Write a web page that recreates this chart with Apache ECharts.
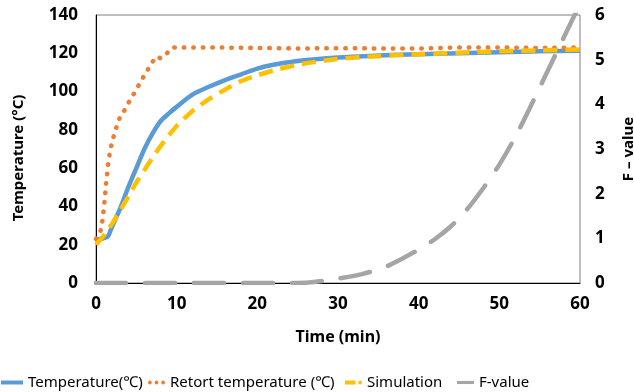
<!DOCTYPE html>
<html>
<head>
<meta charset="utf-8">
<script src="https://cdn.jsdelivr.net/npm/echarts@6/dist/echarts.min.js"></script>
<style>
  html, body { margin: 0; padding: 0; background: #fff; }
  #chart { width: 634px; height: 392px; }
</style>
</head>
<body>
<div id="chart"></div>
<script>
// time (min) for the measured / simulated product temperature
var tempTime = [0, 1, 1.5, 2, 3, 4, 5, 6, 7, 8, 9, 10, 12, 14, 16, 18, 20, 22, 25, 30, 35, 40, 45, 50, 55, 60];
var tempVals = [22.5, 23.5, 24.5, 29.5, 39, 50, 60, 70, 78, 84.5, 88.5, 92, 98.5, 102.5, 106, 109, 112, 114, 116, 117.8, 118.8, 119.5, 120, 120.5, 121, 121.3];
var simVals = [20, 25, 28, 31, 38, 45, 52.5, 59, 65.5, 71.5, 77, 82, 90, 96, 101, 105.5, 108.5, 111, 114, 117, 118.5, 119.5, 120.3, 121, 121.5, 122];

// retort temperature
var retortTime = [0, 0.5, 0.75, 1, 1.25, 1.5, 1.75, 2, 2.5, 3, 3.5, 4, 4.5, 5, 5.5, 6, 6.5, 7, 7.5, 8, 8.5, 9, 9.5, 10, 12, 15, 20, 25, 30, 35, 40, 45, 50, 55, 60];
var retortVals = [23, 26, 31, 40, 52, 62, 69, 74, 81, 87, 90, 94, 97.5, 101, 105, 108.5, 112, 115.5, 118.3, 117.4, 118.5, 121, 123, 123, 123, 123, 122.8, 122.5, 122.7, 122.5, 122.5, 123, 123, 122.8, 123];

// F-value
var fTime = [0, 10, 20, 25, 27, 30, 33, 36, 38, 40, 42, 44, 46, 48, 50, 52, 54, 56, 58, 60];
var fVals = [0, 0, 0, 0, 0.02, 0.1, 0.2, 0.37, 0.55, 0.75, 0.98, 1.27, 1.65, 2.12, 2.65, 3.28, 4.0, 4.75, 5.5, 6.25];

var seriesNames = ['Temperature(℃)', 'Retort temperature (℃)', 'Simulation', 'F-value'];

function pairs(xs, ys) {
  return xs.map(function (x, i) { return [x, ys[i]]; });
}

var font = 'Noto Sans';
var chart = echarts.init(document.getElementById('chart'));

// legend icons drawn as paths so they look like the line styles
var iconSolid = 'path://M0,0L22,0L22,4L0,4Z';
var iconDots = 'path://M0,2a2,2 0 1,0 4,0a2,2 0 1,0 -4,0M7,2a2,2 0 1,0 4,0a2,2 0 1,0 -4,0M14,2a2,2 0 1,0 4,0a2,2 0 1,0 -4,0';
var iconDashDot = 'path://M0,0L11,0L11,4L0,4ZM14,2a2,2 0 1,0 4,0a2,2 0 1,0 -4,0';

function legendAt(left, width, name, icon) {
  return {
    left: left,
    top: 370,
    itemWidth: width,
    itemHeight: 4,
    textStyle: { fontSize: 15, color: '#000', fontFamily: font },
    data: [{ name: name, icon: icon }]
  };
}

chart.setOption({
  animation: false,
  textStyle: { fontFamily: font },
  grid: {
    left: 96, right: 54, top: 15, bottom: 109,
    containLabel: false,
    outerBoundsMode: 'none',
    show: true, borderColor: '#7f7f7f', borderWidth: 1
  },
  legend: [
    legendAt(-4, 22, seriesNames[0], iconSolid),
    legendAt(143, 17, seriesNames[1], iconDots),
    legendAt(340, 17, seriesNames[2], iconDashDot),
    legendAt(452, 17, seriesNames[3], iconSolid)
  ],
  xAxis: {
    type: 'value',
    min: 0, max: 60, interval: 10,
    name: 'Time (min)',
    nameLocation: 'middle',
    nameGap: 46,
    nameTextStyle: { fontSize: 16, fontWeight: 'bold', color: '#000' },
    axisLine: { lineStyle: { color: '#000', width: 1 } },
    axisTick: { show: false },
    splitLine: { show: false },
    axisLabel: { fontSize: 17, fontWeight: 'bold', color: '#000', margin: 13 }
  },
  yAxis: [{
    type: 'value',
    min: 0, max: 140, interval: 20,
    name: 'Temperature (°C)',
    nameLocation: 'middle',
    nameGap: 70,
    nameTextStyle: { fontSize: 15, fontWeight: 'bold', color: '#000', padding: [0, 18, 0, 0] },
    axisLine: { show: true, lineStyle: { color: '#000', width: 1 } },
    axisTick: { show: false },
    splitLine: { show: false },
    axisLabel: { fontSize: 17, fontWeight: 'bold', color: '#000', margin: 18 }
  }, {
    type: 'value',
    min: 0, max: 6, interval: 1,
    name: 'F – value',
    nameLocation: 'middle',
    nameGap: 41,
    nameTextStyle: { fontSize: 15, fontWeight: 'bold', color: '#000' },
    axisLine: { show: false },
    axisTick: { show: false },
    splitLine: { show: false },
    axisLabel: { fontSize: 17, fontWeight: 'bold', color: '#000', margin: 15 }
  }],
  series: [{
    name: seriesNames[0],
    type: 'line',
    symbol: 'none',
    smooth: 0.3,
    data: pairs(tempTime, tempVals),
    itemStyle: { color: '#5B9BD5' },
    lineStyle: { color: '#5B9BD5', width: 4.5 }
  }, {
    name: seriesNames[1],
    type: 'line',
    symbol: 'none',
    data: pairs(retortTime, retortVals),
    itemStyle: { color: '#ED7D31' },
    lineStyle: { color: '#ED7D31', width: 4.5, type: [0.5, 9], cap: 'round' }
  }, {
    name: seriesNames[2],
    type: 'line',
    symbol: 'none',
    smooth: 0.3,
    data: pairs(tempTime, simVals),
    itemStyle: { color: '#FFC000' },
    lineStyle: { color: '#FFC000', width: 4.5, type: [14, 8] }
  }, {
    name: seriesNames[3],
    type: 'line',
    yAxisIndex: 1,
    symbol: 'none',
    smooth: 0.3,
    clip: true,
    data: pairs(fTime, fVals),
    itemStyle: { color: '#A5A5A5' },
    lineStyle: { color: '#A5A5A5', width: 4.5, type: [30, 19], cap: 'round' }
  }]
});
</script>
</body>
</html>
